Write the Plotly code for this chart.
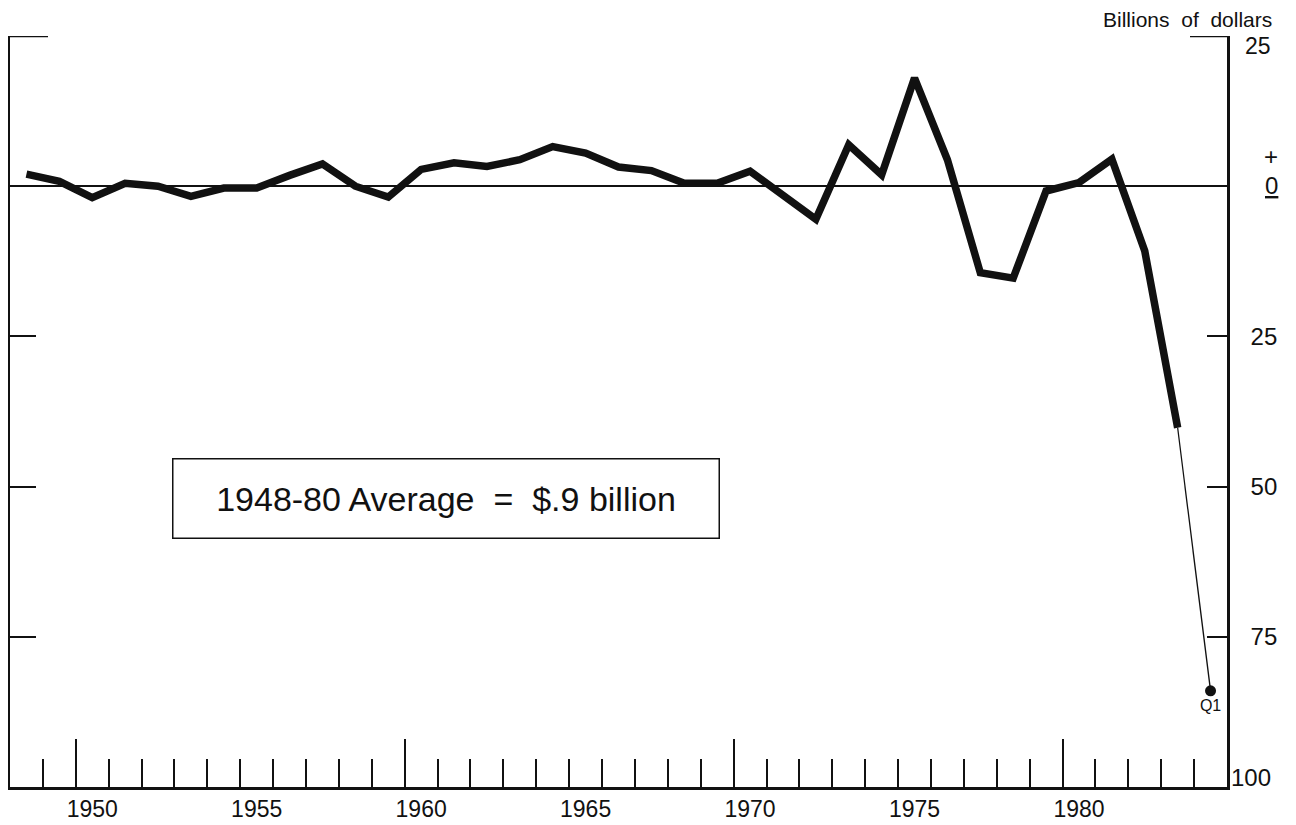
import plotly.graph_objects as go

# ---------------- data ----------------
years = list(range(1948, 1984))
balance = [2.0, 0.8, -1.9, 0.5, 0.0, -1.7, -0.3, -0.3, 1.8, 3.7,
           0.0, -1.8, 2.8, 3.9, 3.3, 4.4, 6.6, 5.5, 3.2, 2.6,
           0.5, 0.5, 2.5, -1.4, -5.5, 6.9, 1.9, 18.0, 4.4, -14.4,
           -15.3, -0.8, 0.6, 4.5, -10.8, -40.2]
q1_year = 1984.0
q1_value = -84.0
q1_label = "Q1"

year_label_vals = [1950, 1955, 1960, 1965, 1970, 1975, 1980]
year_label_text = ["1950", "1955", "1960", "1965", "1970", "1975", "1980"]
year_tick_vals = [y + 0.5 for y in range(1948, 1984)]
decade_tick_vals = [1949.5, 1959.5, 1969.5, 1979.5]

y_mid_ticks = [-25, -50, -75]
y_mid_text = ["25", "50", "75"]
y_top = 25
y_bottom = -100

FONT = "Liberation Sans, Arial, Helvetica, sans-serif"
BLACK = "#111111"
PW = 1217  # plot width in px

fig = go.Figure()

# thick annual line
fig.add_trace(go.Scatter(x=years, y=balance, mode="lines",
                         line=dict(color=BLACK, width=7.5),
                         hoverinfo="skip", showlegend=False))
# thin connector to Q1
fig.add_trace(go.Scatter(x=[years[-1], q1_year], y=[balance[-1], q1_value],
                         mode="lines", line=dict(color=BLACK, width=1.3),
                         hoverinfo="skip", showlegend=False))
# Q1 dot + label
fig.add_trace(go.Scatter(x=[q1_year], y=[q1_value], mode="markers+text",
                         marker=dict(color=BLACK, size=11),
                         text=[q1_label], textposition="bottom center",
                         textfont=dict(family=FONT, size=16, color=BLACK),
                         hoverinfo="skip", showlegend=False))

# empty traces to bind the helper axes
for xa, ya in [("x2", "y"), ("x", "y2")]:
    fig.add_trace(go.Scatter(x=[None], y=[None], xaxis=xa, yaxis=ya,
                             hoverinfo="skip", showlegend=False))

xr = [1947.5, 1984.5]
yr = [y_bottom, y_top]

# the page body has an 8px margin; the figure is sized so the plot sits
# where the reference has it
fig.update_layout(
    width=1288, height=817, autosize=False,
    margin=dict(l=2, r=69, t=28, b=38, autoexpand=False),
    paper_bgcolor="white", plot_bgcolor="white",
    font=dict(family=FONT, color=BLACK, size=23),
    xaxis=dict(range=xr, showgrid=False, zeroline=False, automargin=False,
               showline=True, linecolor=BLACK, linewidth=2.5,
               tickmode="array", tickvals=year_label_vals, ticktext=year_label_text,
               ticks="", ticklen=0, tickfont=dict(size=23, family=FONT, color=BLACK),
               ticklabelstandoff=0,
               minor=dict(tickmode="array", tickvals=year_tick_vals, ticks="inside",
                          ticklen=28, tickwidth=1.6, tickcolor=BLACK, showgrid=False)),
    xaxis2=dict(range=xr, overlaying="x", anchor="y", side="bottom", automargin=False,
                showgrid=False, zeroline=False, showline=False,
                tickmode="array", tickvals=decade_tick_vals, ticks="inside",
                ticklen=48, tickwidth=1.6, tickcolor=BLACK, showticklabels=False),
    yaxis=dict(range=yr, side="right", showgrid=False, automargin=False,
               zeroline=True, zerolinecolor=BLACK, zerolinewidth=1.6,
               showline=True, linecolor=BLACK, linewidth=2.5,
               tickmode="array", tickvals=y_mid_ticks, ticktext=y_mid_text,
               ticks="inside", ticklen=20, tickwidth=1.8, tickcolor=BLACK,
               tickfont=dict(size=24, family=FONT, color=BLACK),
               ticklabelstandoff=16),
    yaxis2=dict(range=yr, overlaying="y", side="left", anchor="x", automargin=False,
                showgrid=False, zeroline=False,
                showline=True, linecolor=BLACK, linewidth=2.5,
                tickmode="array", tickvals=y_mid_ticks, ticks="inside",
                ticklen=26, tickwidth=1.8, tickcolor=BLACK, showticklabels=False),
    showlegend=False,
)

# top end ticks on both sides (ticks at the very range end are clipped by plotly)
fig.add_shape(type="line", xref="paper", yref="y", x0=-1 / PW, x1=38 / PW,
              y0=y_top, y1=y_top, line=dict(color=BLACK, width=2.5))
fig.add_shape(type="line", xref="paper", yref="y", x0=1 - 37 / PW, x1=1 + 1 / PW,
              y0=y_top, y1=y_top, line=dict(color=BLACK, width=2.5))

ann = []
# unit title
ann.append(dict(text="Billions\u00a0 of\u00a0 dollars", xref="paper", yref="paper",
                x=1.0386, y=1.0220, xanchor="right", yanchor="middle",
                showarrow=False, font=dict(size=21, family=FONT, color=BLACK)))
# top "25" and bottom "100"
ann.append(dict(text=str(y_top), xref="paper", yref="y", x=1.0378, y=y_top,
                yshift=-10, xanchor="right", yanchor="middle", showarrow=False,
                font=dict(size=23, family=FONT, color=BLACK)))
ann.append(dict(text=str(abs(y_bottom)), xref="paper", yref="y", x=1.0378, y=y_bottom,
                yshift=10, xanchor="right", yanchor="middle", showarrow=False,
                font=dict(size=24, family=FONT, color=BLACK)))
# +/0/- marker at zero
ann.append(dict(text="+", xref="paper", yref="y", x=1.0362, y=0,
                yshift=14, xanchor="center", yanchor="bottom", showarrow=False,
                font=dict(size=24, family=FONT, color=BLACK)))
ann.append(dict(text="<u>0</u>", xref="paper", yref="y", x=1.0362, y=0,
                yshift=1, xanchor="center", yanchor="middle", showarrow=False,
                font=dict(size=24, family=FONT, color=BLACK)))
# average box
ann.append(dict(text="1948-80 Average\u00a0 =\u00a0 $.9 billion",
                xref="paper", yref="paper", x=0.3585, y=0.3848,
                xanchor="center", yanchor="middle", showarrow=False,
                width=537, height=70, borderpad=4, bordercolor=BLACK, borderwidth=1.5,
                bgcolor="white", align="center",
                font=dict(size=34, family=FONT, color=BLACK)))
fig.update_layout(annotations=ann)

fig.write_html("out.html")
